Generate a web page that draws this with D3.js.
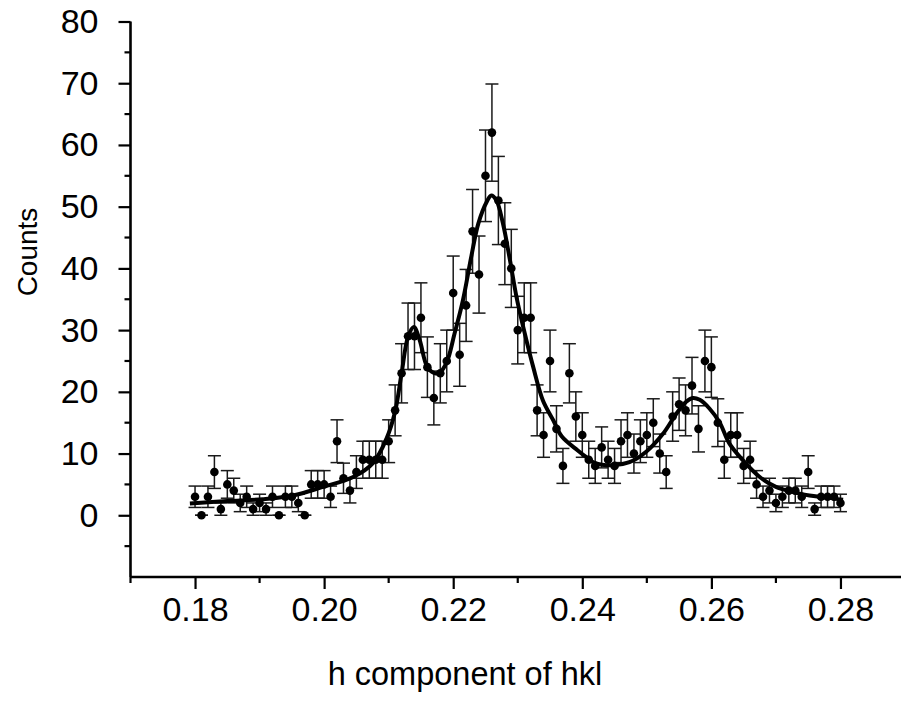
<!DOCTYPE html>
<html lang="en">
<head>
  <meta charset="UTF-8">
  <title>Counts vs h component of hkl</title>
  <script src="https://cdn.jsdelivr.net/npm/d3@7"></script>
  <style>
    body {
      margin: 0;
      padding: 0;
      background-color: #fff;
    }
    svg text {
      font-family: "Liberation Sans", Arial, sans-serif;
      fill: #000;
    }
  </style>
</head>
<body>
  <div id="chart"></div>

  <script>
    // measured points (h, counts); error bars are sqrt(counts)
    var hValues = [
      0.180, 0.181, 0.182, 0.183, 0.184, 0.185, 0.186, 0.187, 0.188, 0.189,
      0.190, 0.191, 0.192, 0.193, 0.194, 0.195, 0.196, 0.197, 0.198, 0.199,
      0.200, 0.201, 0.202, 0.203, 0.204, 0.205, 0.206, 0.207, 0.208, 0.209,
      0.210, 0.211, 0.212, 0.213, 0.214, 0.215, 0.216, 0.217, 0.218, 0.219,
      0.220, 0.221, 0.222, 0.223, 0.224, 0.225, 0.226, 0.227, 0.228, 0.229,
      0.230, 0.231, 0.232, 0.233, 0.234, 0.235, 0.236, 0.237, 0.238, 0.239,
      0.240, 0.241, 0.242, 0.243, 0.244, 0.245, 0.246, 0.247, 0.248, 0.249,
      0.250, 0.251, 0.252, 0.253, 0.254, 0.255, 0.256, 0.257, 0.258, 0.259,
      0.260, 0.261, 0.262, 0.263, 0.264, 0.265, 0.266, 0.267, 0.268, 0.269,
      0.270, 0.271, 0.272, 0.273, 0.274, 0.275, 0.276, 0.277, 0.278, 0.279,
      0.280
    ];
    var counts = [
      3, 0, 3, 7, 1, 5, 4, 2, 3, 1,
      2, 1, 3, 0, 3, 3, 2, 0, 5, 5,
      5, 3, 12, 6, 4, 7, 9, 9, 9, 9,
      12, 17, 23, 29, 29, 32, 24, 19, 23, 25,
      36, 26, 34, 46, 39, 55, 62, 51, 44, 40,
      30, 32, 32, 17, 13, 25, 14, 8, 23, 16,
      13, 9, 8, 11, 9, 8, 12, 13, 10, 12,
      13, 15, 10, 7, 16, 18, 17, 21, 14, 25,
      24, 15, 9, 13, 13, 8, 9, 5, 3, 4,
      2, 3, 4, 4, 3, 7, 1, 3, 3, 3,
      2
    ];

    // fitted curve
    var fitH = [
      0.1792, 0.1850, 0.1905, 0.1952, 0.1998, 0.2045, 0.2076, 0.2097, 0.2110, 0.2120,
      0.2130, 0.2139, 0.2148, 0.2160, 0.2172, 0.2179, 0.2190, 0.2202, 0.2215, 0.2228,
      0.2239, 0.2252, 0.2259, 0.2267, 0.2277, 0.2288, 0.2298, 0.2311, 0.2324, 0.2339,
      0.2355, 0.2368, 0.2393, 0.2409, 0.2419, 0.2448, 0.2473, 0.2499, 0.2525, 0.2546,
      0.2561, 0.2571, 0.2582, 0.2597, 0.2613, 0.2628, 0.2649, 0.2675, 0.2700, 0.2726,
      0.2752, 0.2778, 0.2804
    ];
    var fitCounts = [
      1.9, 2.3, 2.6, 3.2, 4.6, 6.2, 8.5, 12.5, 16.8, 23,
      28.9, 30.5, 28.4, 24, 23, 23.1, 24.8, 29.4, 34.8, 41.9,
      47.3, 50.8, 51.8, 51, 47.3, 41.3, 35.4, 29.4, 24, 18.6,
      15.4, 12.8, 10.5, 9.2, 8.5, 8.1, 8.6, 10.3, 13.2, 16.5,
      18.4, 19.0, 18.7, 17.3, 15.0, 11.6, 8.9, 6.2, 4.6, 3.8,
      3.2, 2.9, 2.5
    ];

    var xMajorTicks = [0.18, 0.20, 0.22, 0.24, 0.26, 0.28];
    var xMinorTicks = [0.17, 0.19, 0.21, 0.23, 0.25, 0.27, 0.29];
    var yMajorTicks = [0, 10, 20, 30, 40, 50, 60, 70, 80];
    var yMinorTicks = [-5, 5, 15, 25, 35, 45, 55, 65, 75];

    var width = 901, height = 701;

    var svg = d3.select("#chart")
      .append("svg")
      .attr("width", width)
      .attr("height", height);

    var x = d3.scaleLinear().domain([0.17, 0.29]).range([130.5, 905]);
    var y = d3.scaleLinear().domain([-10, 80]).range([577, 21.5]);

    var points = hValues.map(function (h, i) {
      return { h: h, c: counts[i], err: Math.sqrt(counts[i]) };
    });
    var fit = fitH.map(function (h, i) { return { h: h, c: fitCounts[i] }; });

    // axes
    var xAxisG = svg.append("g").attr("transform", "translate(0," + y(-10) + ")");
    xAxisG.call(d3.axisBottom(x).tickValues(xMajorTicks).tickSize(12)
      .tickFormat(d3.format(".2f")));
    xAxisG.call(function (g) {
      g.selectAll(".minor").data(xMinorTicks).enter().append("line")
        .attr("class", "minor")
        .attr("x1", d => x(d)).attr("x2", d => x(d))
        .attr("y1", 0).attr("y2", 6);
    });

    var yAxisG = svg.append("g").attr("transform", "translate(" + x(0.17) + ",0)");
    yAxisG.call(d3.axisLeft(y).tickValues(yMajorTicks).tickSize(12).tickPadding(20));
    yAxisG.call(function (g) {
      g.selectAll(".minor").data(yMinorTicks).enter().append("line")
        .attr("class", "minor")
        .attr("y1", d => y(d)).attr("y2", d => y(d))
        .attr("x1", 0).attr("x2", -6);
    });

    svg.selectAll(".domain")
      .attr("stroke", "#000").attr("stroke-width", 2.6);
    svg.selectAll(".tick line, line.minor")
      .attr("stroke", "#000").attr("stroke-width", 2.2);
    xAxisG.selectAll(".domain").attr("d", "M" + x(0.17) + ",0H905");
    yAxisG.selectAll(".domain").attr("d", "M0," + y(80) + "V" + y(-10));
    svg.selectAll(".tick text")
      .style("font-size", "34px");
    xAxisG.selectAll(".tick text").attr("y", 44).attr("dy", 0);

    // error bars
    var bars = svg.append("g").attr("stroke", "#1a1a1a").attr("stroke-width", 1.5);
    points.forEach(function (d) {
      var cx = x(d.h);
      bars.append("line")
        .attr("x1", cx).attr("x2", cx)
        .attr("y1", y(d.c - d.err)).attr("y2", y(d.c + d.err));
      bars.append("line")
        .attr("x1", cx - 6.5).attr("x2", cx + 6.5)
        .attr("y1", y(d.c + d.err)).attr("y2", y(d.c + d.err));
      bars.append("line")
        .attr("x1", cx - 6.5).attr("x2", cx + 6.5)
        .attr("y1", y(d.c - d.err)).attr("y2", y(d.c - d.err));
    });

    // fitted curve
    var line = d3.line()
      .x(d => x(d.h))
      .y(d => y(d.c))
      .curve(d3.curveCatmullRom.alpha(0.5));

    svg.append("path")
      .datum(fit)
      .attr("fill", "none")
      .attr("stroke", "#000")
      .attr("stroke-width", 4)
      .attr("stroke-linejoin", "round")
      .attr("d", line);

    // data points
    svg.append("g")
      .selectAll("circle")
      .data(points)
      .enter()
      .append("circle")
      .attr("cx", d => x(d.h))
      .attr("cy", d => y(d.c))
      .attr("r", 4.3)
      .attr("fill", "#000");

    // axis titles
    svg.append("text")
      .attr("x", 465)
      .attr("y", 685)
      .attr("text-anchor", "middle")
      .style("font-size", "32.5px")
      .text("h component of hkl");

    svg.append("text")
      .attr("transform", "translate(37,252) rotate(-90)")
      .attr("text-anchor", "middle")
      .style("font-size", "28px")
      .text("Counts");
  </script>
</body>
</html>
